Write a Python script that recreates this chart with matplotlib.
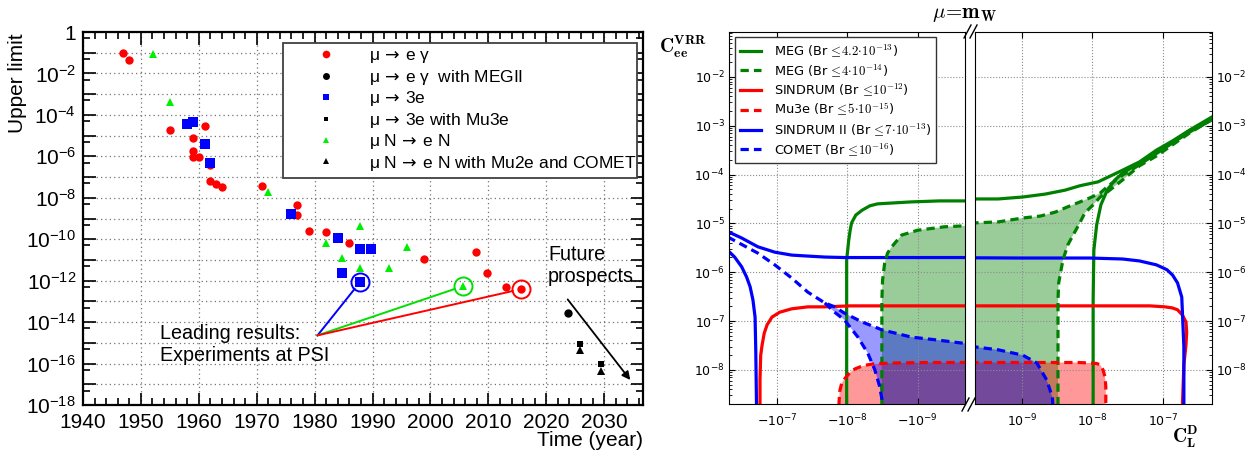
import numpy as np
import matplotlib
matplotlib.use("Agg")
import matplotlib.pyplot as plt
from matplotlib.lines import Line2D
from matplotlib.font_manager import FontProperties
from matplotlib.ticker import (FixedLocator, FuncFormatter, NullLocator, NullFormatter)

plt.rcParams['font.family'] = ['Liberation Sans', 'DejaVu Sans']

# ---------------- left panel: year, log10(upper limit) ----------------
megam_year = [1946.9, 1947.9, 1955.0, 1961.0, 1959.0, 1959.0, 1959.0, 1960.0,
              1961.9, 1961.9, 1962.9, 1964.0, 1970.9, 1976.9, 1976.9, 1979.0,
              1981.9, 1985.9, 1998.8, 2007.9, 2009.8, 2013.0, 2015.7]
megam_exp = [-1.01, -1.35, -4.73, -4.54, -5.12, -5.74, -6.03, -6.03,
             -6.42, -7.19, -7.34, -7.48, -7.43, -8.35, -8.83, -9.60,
             -9.65, -10.18, -10.96, -10.62, -11.63, -12.31, -12.40]
mu3e_year = [1957.9, 1959.0, 1961.0, 1961.9, 1975.9, 1984.0, 1987.9, 1989.8,
             1984.8, 1987.9]
mu3e_exp = [-4.44, -4.34, -5.41, -6.32, -8.78, -9.94, -10.47, -10.47,
            -11.63, -12.07]
mue_year = [1952.1, 1955.0, 1971.9, 1981.9, 1987.9, 1995.9, 1984.8, 1987.9,
            1992.9, 2005.7]
mue_exp = [-1.06, -3.38, -7.72, -10.18, -9.36, -10.38, -10.91, -11.39,
           -11.39, -12.26]
fut_meg_year, fut_meg_exp = [2023.8], [-13.56]
fut_mu3e_year, fut_mu3e_exp = [2025.9, 2029.5], [-15.06, -16.02]
fut_mue_year, fut_mue_exp = [2025.9, 2029.5], [-15.35, -16.36]

# circled PSI results and the lines pointing to them
psi_year = [1987.9, 2005.7, 2015.7]
psi_exp = [-12.07, -12.26, -12.40]
psi_colors = ['blue', '#00e000', 'red']
psi_apex = (1980.5, -14.64)
psi_end_year = [1986.9, 2004.2, 2014.2]
psi_end_exp = [-12.40, -12.40, -12.50]

# ---------------- right panel: log10|C_L^D|, log10 C_ee^VRR ----------------
# "neg" = negative C_L^D branch (left half), "pos" = positive branch (right half)
sind2_up_neg_u = [-6.32, -6.50, -6.73, -6.97, -7.21, -7.44, -7.68, -7.96, -8.5, -9.0, -10.5]
sind2_up_neg_v = [-5.18, -5.30, -5.48, -5.59, -5.65, -5.67, -5.69, -5.70, -5.70, -5.70, -5.70]
sind2_up_pos_u = [-10.5, -9.0, -8.04, -7.57, -7.33, -7.09, -6.94, -6.86, -6.79, -6.73, -6.72, -6.70, -6.70]
sind2_up_pos_v = [-5.70, -5.71, -5.71, -5.73, -5.77, -5.85, -5.95, -6.06, -6.22, -6.51, -6.84, -7.53, -9.0]
sind2_lo_neg_u = [-6.30, -6.40, -6.50, -6.57, -6.62, -6.66, -6.69, -6.70, -6.71, -6.71]
sind2_lo_neg_v = [-5.55, -5.69, -5.89, -6.10, -6.30, -6.57, -6.92, -7.59, -8.68, -9.0]

comet_up_neg_u = [-6.30, -6.33, -6.73, -6.97, -7.21, -7.44, -7.68, -7.82, -7.96, -8.21,
                  -8.49, -8.91, -9.28, -9.67, -10.5]
comet_up_neg_v = [-5.28, -5.30, -5.61, -5.85, -6.12, -6.41, -6.63, -6.71, -6.84, -7.02,
                  -7.18, -7.33, -7.39, -7.46, -7.50]
comet_lo_neg_u = [-7.68, -7.82, -7.96, -8.15, -8.29, -8.39, -8.46, -8.50, -8.51]
comet_lo_neg_v = [-6.63, -6.82, -6.98, -7.33, -7.66, -8.00, -8.35, -8.68, -9.0]
comet_pos_u = [-10.5, -9.67, -9.34, -8.99, -8.79, -8.65, -8.57, -8.55]
comet_pos_v = [-7.50, -7.53, -7.59, -7.70, -7.86, -8.21, -8.56, -9.0]

meg_neg_u = [-7.99, -7.99, -7.99, -8.02, -8.04, -8.06, -8.12, -8.21, -8.32, -8.43,
             -8.67, -8.91, -9.31, -9.67, -10.5]
meg_neg_v = [-9.0, -6.57, -5.75, -5.34, -5.14, -4.99, -4.83, -4.73, -4.64, -4.60,
             -4.58, -4.56, -4.54, -4.54, -4.53]
meg_up_pos_u = [-10.5, -9.67, -9.34, -8.99, -8.67, -8.39, -8.18, -7.92, -7.57, -7.33,
                -7.09, -6.86, -6.62, -6.30]
meg_up_pos_v = [-4.52, -4.50, -4.50, -4.46, -4.40, -4.32, -4.23, -4.15, -3.91, -3.74,
                -3.50, -3.31, -3.09, -2.82]
meg_lo_pos_u = [-7.99, -7.99, -7.98, -7.94, -7.88, -7.79, -7.68, -7.57, -7.33, -7.09,
                -6.86, -6.62, -6.30]
meg_lo_pos_v = [-9.0, -6.57, -5.55, -5.03, -4.62, -4.32, -4.11, -3.97, -3.76, -3.56,
                -3.35, -3.13, -2.88]

meg2_neg_u = [-8.49, -8.49, -8.50, -8.53, -8.57, -8.63, -8.77, -9.0, -9.38, -9.67, -10.5]
meg2_neg_v = [-9.0, -6.57, -6.16, -5.81, -5.61, -5.48, -5.24, -5.14, -5.07, -5.05, -5.03]
meg2_up_pos_u = [-10.5, -9.67, -9.34, -8.99, -8.74, -8.53, -8.35, -8.21, -8.04, -7.89,
                 -7.79, -7.57, -7.33, -7.09, -6.62, -6.30]
meg2_up_pos_v = [-5.01, -4.99, -4.97, -4.89, -4.85, -4.77, -4.66, -4.58, -4.48, -4.38,
                 -4.25, -4.01, -3.80, -3.56, -3.11, -2.85]
meg2_in_pos_u = [-8.49, -8.49, -8.48, -8.42, -8.35, -8.29, -8.18, -8.11, -7.99, -7.89,
                 -7.79, -7.57, -7.33, -7.09, -6.62, -6.30]
meg2_in_pos_v = [-9.0, -6.57, -6.22, -5.75, -5.44, -5.28, -4.99, -4.79, -4.62, -4.46,
                 -4.36, -4.11, -3.82, -3.62, -3.15, -2.87]

sind_neg_u = [-6.76, -6.76, -6.77, -6.79, -6.82, -6.86, -6.93, -7.04, -7.21, -7.44,
              -7.68, -8.04, -8.74, -10.5]
sind_neg_v = [-9.0, -8.21, -7.70, -7.49, -7.25, -7.08, -6.92, -6.82, -6.75, -6.71,
              -6.71, -6.69, -6.69, -6.69]
sind_pos_u = [-10.5, -7.89, -7.18, -6.97, -6.87, -6.79, -6.72, -6.67, -6.66, -6.67,
              -6.70, -6.72, -6.72]
sind_pos_v = [-6.69, -6.69, -6.69, -6.71, -6.73, -6.77, -6.88, -7.02, -7.23, -7.49,
              -7.90, -8.70, -9.0]

mu3e_neg_u = [-7.87, -7.89, -7.92, -7.98, -8.04, -8.11, -8.18, -8.28, -8.36, -8.65, -9.17, -10.5]
mu3e_neg_v = [-9.0, -8.45, -8.27, -8.15, -8.05, -7.98, -7.94, -7.90, -7.88, -7.86, -7.85, -7.85]
mu3e_pos_u = [-10.5, -9.0, -8.2, -8.05, -7.94, -7.89, -7.85, -7.82, -7.81, -7.81]
mu3e_pos_v = [-7.85, -7.85, -7.85, -7.86, -7.87, -7.90, -8.00, -8.15, -8.35, -9.0]

right_labels = [r'MEG (Br$\,\leq\!4.2\!\cdot\!10^{-13}$)', r'MEG (Br$\,\leq\!4\!\cdot\!10^{-14}$)',
                r'SINDRUM (Br$\,\leq\!10^{-12}$)', r'Mu3e (Br$\,\leq\!5\!\cdot\!10^{-15}$)',
                r'SINDRUM II (Br$\,\leq\!7\!\cdot\!10^{-13}$)', r'COMET (Br$\,\leq\!10^{-16}$)']

W, H = 1254, 457
fig = plt.figure(figsize=(W / 100, H / 100), dpi=100)

# ======================= left panel =======================
ax = fig.add_axes([83 / W, 1 - 405 / H, 560 / W, 373 / H])
ax.set_yscale('log')
ax.set_ylim(1e-18, 1)
ax.set_xlim(1940, 2036.7)
ax.yaxis.set_major_locator(FixedLocator(10.0 ** np.arange(-18, 1)))
ax.yaxis.set_minor_locator(FixedLocator(5 * 10.0 ** np.arange(-18, 0)))


def left_ylab(val, pos):
    k = int(round(np.log10(val)))
    if k % 2:
        return ''
    return '1' if k == 0 else r'$\mathdefault{10^{%d}}$' % k


ax.yaxis.set_major_formatter(FuncFormatter(left_ylab))
ax.yaxis.set_minor_formatter(NullFormatter())
ax.xaxis.set_major_locator(FixedLocator(np.arange(1940, 2031, 10)))
ax.xaxis.set_minor_locator(FixedLocator(np.arange(1940, 2037, 2)))
ax.tick_params(which='both', direction='in', top=True, right=True, labelsize=15, width=1.2)
ax.tick_params(which='major', length=9)
ax.tick_params(which='minor', length=5)
ax.tick_params(axis='x', pad=6)
ax.tick_params(axis='y', pad=5)
for s in ax.spines.values():
    s.set_linewidth(1.6)
ax.grid(True, which='major', ls=(0, (1, 2.5)), color='0.45', lw=0.9)

ax.plot(megam_year, 10.0 ** np.array(megam_exp), 'o', color='red', ms=6, mew=0)
ax.plot(mu3e_year, 10.0 ** np.array(mu3e_exp), 's', color='blue', ms=6.5, mew=0)
ax.plot(mue_year, 10.0 ** np.array(mue_exp), '^', color='#00ee00', ms=5.5, mew=0)
ax.plot(fut_meg_year, 10.0 ** np.array(fut_meg_exp), 'o', color='black', ms=6, mew=0)
ax.plot(fut_mu3e_year, 10.0 ** np.array(fut_mu3e_exp), 's', color='black', ms=4.5, mew=0)
ax.plot(fut_mue_year, 10.0 ** np.array(fut_mue_exp), '^', color='black', ms=5.5, mew=0)

for yr, ex, c, ey, ee in zip(psi_year, psi_exp, psi_colors, psi_end_year, psi_end_exp):
    ax.plot([yr], [10 ** ex], 'o', ms=13, mfc='none', mec=c, mew=1.4)
    ax.plot([psi_apex[0], ey], [10 ** psi_apex[1], 10 ** ee], color=c, lw=1.4)

ax.text(1953.3, 10 ** -15.1, 'Leading results:\nExperiments at PSI', fontsize=14.2,
        ha='left', va='center', linespacing=1.2)
ax.text(2020.3, 10 ** -11.25, 'Future\nprospects', fontsize=14.2, ha='left', va='center',
        linespacing=1.2)
ax.annotate('', xy=(2034.8, 10 ** -16.9), xytext=(2023.4, 10 ** -12.8),
            arrowprops=dict(arrowstyle='-|>', color='black', lw=1.3, mutation_scale=12))

handles = [
    Line2D([], [], ls='none', marker='o', color='red', ms=5.5, mew=0),
    Line2D([], [], ls='none', marker='o', color='black', ms=5, mew=0),
    Line2D([], [], ls='none', marker='s', color='blue', ms=5, mew=0),
    Line2D([], [], ls='none', marker='s', color='black', ms=3.5, mew=0),
    Line2D([], [], ls='none', marker='^', color='#00ee00', ms=5, mew=0),
    Line2D([], [], ls='none', marker='^', color='black', ms=5, mew=0),
]
arrow = r'$\!\rightarrow\,$'
labels = ['\u03bc %se \u03b3' % arrow, '\u03bc %se \u03b3  with MEGII' % arrow,
          '\u03bc %s3e' % arrow, '\u03bc %s3e with Mu3e' % arrow,
          '\u03bc N %se N' % arrow, '\u03bc N %se N with Mu2e and COMET' % arrow]
leg = ax.legend(handles, labels, loc='upper left', bbox_to_anchor=(0.357, 0.9705, 0.632, 0.0),
                mode='expand', borderaxespad=0, fontsize=12.5, handlelength=4.4,
                handletextpad=0.25, borderpad=0.3, labelspacing=0.14, fancybox=False,
                framealpha=1, edgecolor='0.25')
leg.get_frame().set_linewidth(1.3)

fig.text(18 / W, 1 - 33 / H, 'Upper limit', rotation=90, ha='center', va='top', fontsize=15)
fig.text(643 / W, 1 - 440 / H, 'Time (year)', ha='right', va='center', fontsize=15)

# ======================= right panel =======================
bot, hgt = 1 - 404 / H, 372 / H
axL = fig.add_axes([729 / W, bot, 236 / W, hgt])
axR = fig.add_axes([975 / W, bot, 237 / W, hgt])
y_major = 10.0 ** np.arange(-8, -1)
y_minor = np.concatenate([m * 10.0 ** np.arange(-9, -1) for m in range(2, 10)])
y_minor = y_minor[(y_minor > 10 ** -8.70) & (y_minor < 10 ** -1.08)]
for a in (axL, axR):
    a.set_xscale('log')
    a.set_yscale('log')
    a.set_ylim(10 ** -8.70, 10 ** -1.08)
    a.xaxis.set_major_locator(FixedLocator([1e-7, 1e-8, 1e-9]))
    a.xaxis.set_minor_locator(NullLocator())
    a.yaxis.set_major_locator(FixedLocator(y_major))
    a.yaxis.set_minor_locator(FixedLocator(y_minor))
    a.yaxis.set_minor_formatter(NullFormatter())
    a.yaxis.set_major_formatter(FuncFormatter(
        lambda v, p: r'$\mathdefault{10^{%d}}$' % round(np.log10(v))))
    a.grid(True, which='major', ls=':', color='0.55', lw=0.8)
    a.tick_params(which='both', direction='in', labelsize=9, labelfontfamily='DejaVu Sans',
                  top=True, bottom=True)
    a.tick_params(which='major', length=4)
    a.tick_params(which='minor', length=2)
    a.tick_params(axis='x', pad=6)
    a.tick_params(axis='y', pad=3)
axL.set_xlim(10 ** -6.32, 10 ** -9.67)
axR.set_xlim(10 ** -9.67, 10 ** -6.30)
axL.xaxis.set_major_formatter(FuncFormatter(
    lambda v, p: r'$\mathdefault{-10^{%d}}$' % round(np.log10(v))))
axR.xaxis.set_major_formatter(FuncFormatter(
    lambda v, p: r'$\mathdefault{10^{%d}}$' % round(np.log10(v))))
axL.tick_params(axis='y', which='both', left=True, right=False)
axR.tick_params(axis='y', which='both', left=False, right=True, labelleft=False, labelright=True)

G, R, B = (0, 0.5, 0), 'red', 'blue'
lw = 2.3
dash = (0, (2.6, 1.6))


def P(u):
    return 10.0 ** np.asarray(u, dtype=float)


# fills (green, red, blue)
axL.fill(P(meg2_neg_u + [-10.5]), P(meg2_neg_v + [-9.0]), color=G, alpha=0.4, lw=0)
axR.fill(P(meg2_up_pos_u + meg2_in_pos_u[::-1] + [-10.5]),
         P(meg2_up_pos_v + meg2_in_pos_v[::-1] + [-9.0]), color=G, alpha=0.4, lw=0)
axL.fill(P(mu3e_neg_u + [-10.5]), P(mu3e_neg_v + [-9.0]), color=R, alpha=0.4, lw=0)
axR.fill(P(mu3e_pos_u + [-10.5]), P(mu3e_pos_v + [-9.0]), color=R, alpha=0.4, lw=0)
k = comet_up_neg_u.index(-7.68)
axL.fill(P(comet_up_neg_u[k:] + [-10.5] + comet_lo_neg_u[::-1]),
         P(comet_up_neg_v[k:] + [-9.0] + comet_lo_neg_v[::-1]), color=B, alpha=0.4, lw=0)
axR.fill(P(comet_pos_u + [-10.5]), P(comet_pos_v + [-9.0]), color=B, alpha=0.4, lw=0)

# solid curves
axL.plot(P(meg_neg_u), P(meg_neg_v), color=G, lw=lw)
axR.plot(P(meg_up_pos_u), P(meg_up_pos_v), color=G, lw=lw)
axR.plot(P(meg_lo_pos_u), P(meg_lo_pos_v), color=G, lw=lw)
axL.plot(P(sind_neg_u), P(sind_neg_v), color=R, lw=lw)
axR.plot(P(sind_pos_u), P(sind_pos_v), color=R, lw=lw)
axL.plot(P(sind2_up_neg_u), P(sind2_up_neg_v), color=B, lw=lw)
axL.plot(P(sind2_lo_neg_u), P(sind2_lo_neg_v), color=B, lw=lw)
axR.plot(P(sind2_up_pos_u), P(sind2_up_pos_v), color=B, lw=lw)
# dashed curves
axL.plot(P(meg2_neg_u), P(meg2_neg_v), color=G, lw=lw, ls=dash)
axR.plot(P(meg2_up_pos_u), P(meg2_up_pos_v), color=G, lw=lw, ls=dash)
axR.plot(P(meg2_in_pos_u), P(meg2_in_pos_v), color=G, lw=lw, ls=dash)
axL.plot(P(mu3e_neg_u), P(mu3e_neg_v), color=R, lw=lw, ls=dash)
axR.plot(P(mu3e_pos_u), P(mu3e_pos_v), color=R, lw=lw, ls=dash)
axL.plot(P(comet_up_neg_u), P(comet_up_neg_v), color=B, lw=lw, ls=dash)
axL.plot(P(comet_lo_neg_u), P(comet_lo_neg_v), color=B, lw=lw, ls=dash)
axR.plot(P(comet_pos_u), P(comet_pos_v), color=B, lw=lw, ls=dash)

rh = [Line2D([], [], color=G, lw=lw), Line2D([], [], color=G, lw=lw, ls=dash),
      Line2D([], [], color=R, lw=lw), Line2D([], [], color=R, lw=lw, ls=dash),
      Line2D([], [], color=B, lw=lw), Line2D([], [], color=B, lw=lw, ls=dash)]
rleg = axL.legend(rh, right_labels, loc='upper left', bbox_to_anchor=(0.025, 0.987),
                  borderaxespad=0, prop=FontProperties(family='DejaVu Sans', size=9.3,
                                                       math_fontfamily='cm'),
                  handlelength=1.6, handletextpad=1.0, borderpad=0.4, labelspacing=0.21,
                  fancybox=False, framealpha=1, edgecolor='0.2')
rleg.get_frame().set_linewidth(1.0)

# break marks
for (x1, y1, x2, y2) in [(964, 38, 971, 25), (970, 38, 977, 25),
                         (962, 411, 969, 398), (968, 411, 975, 398)]:
    fig.add_artist(Line2D([x1 / W, x2 / W], [1 - y1 / H, 1 - y2 / H], color='black', lw=1.0))

fig.text(965 / W, 1 - 15 / H, r'$\mu\!=\!\mathbf{m_W}$', fontsize=15, ha='center', va='center',
         math_fontfamily='cm')
fig.text(683 / W, 1 - 47 / H, r'$\mathbf{C_{ee}^{VRR}}$', fontsize=14, ha='center', va='center',
         math_fontfamily='cm')
fig.text(1185 / W, 1 - 437 / H, r'$\mathbf{C_{L}^{D}}$', fontsize=14, ha='center', va='center',
         math_fontfamily='cm')

fig.savefig('out.png', dpi=100)
